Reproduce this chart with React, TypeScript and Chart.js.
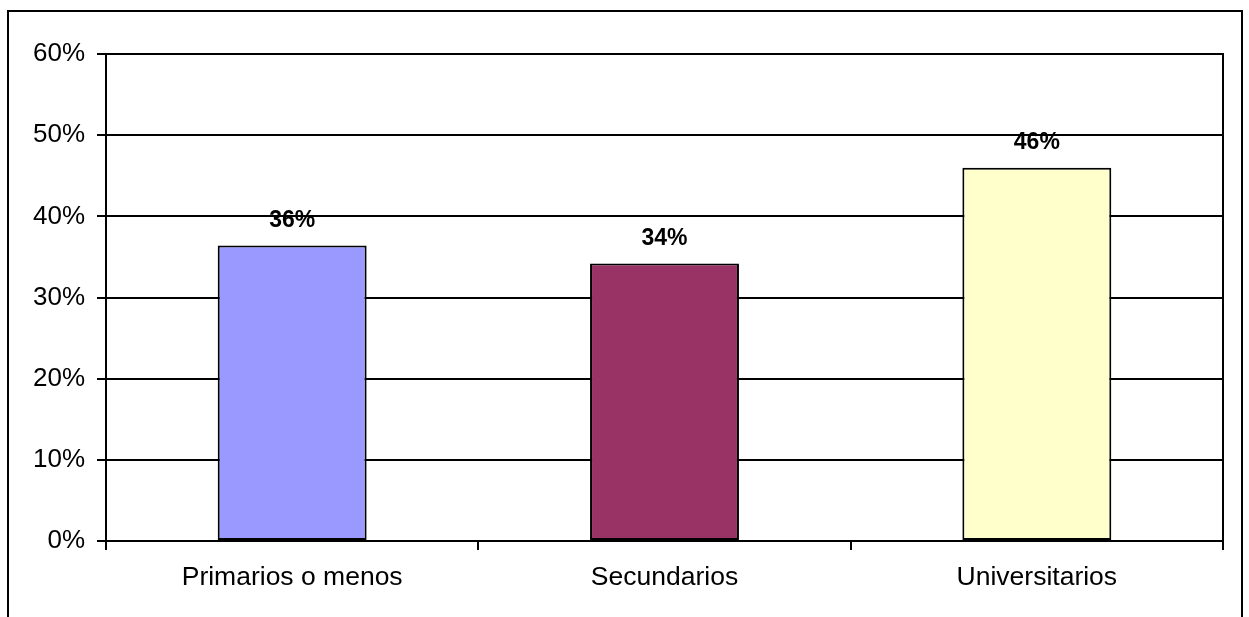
import React, { useEffect, useRef } from "react";
import { Chart, registerables } from "chart.js";

Chart.register(...registerables);

const categories: string[] = ["Primarios o menos", "Secundarios", "Universitarios"];
const values: number[] = [36.4, 34.2, 46.0];
const barColors: string[] = ["#9999FF", "#993366", "#FFFFCC"];
const yTicks: number[] = [0, 10, 20, 30, 40, 50, 60];

const FONT = "'Liberation Sans', Arial, Helvetica, sans-serif";

const framePlugin = {
  id: "framePlugin",
  afterDraw(chart: any) {
    const { ctx, chartArea } = chart;
    ctx.save();
    ctx.strokeStyle = "#000";
    ctx.lineWidth = 2;
    // plot area border
    ctx.strokeRect(chartArea.left, chartArea.top, chartArea.right - chartArea.left, chartArea.bottom - chartArea.top);
    // outer chart frame (bottom falls outside the view)
    ctx.beginPath();
    ctx.moveTo(8, chart.height + 10);
    ctx.lineTo(8, 11);
    ctx.lineTo(1242, 11);
    ctx.lineTo(1242, chart.height + 10);
    ctx.stroke();
    // value labels
    const meta = chart.getDatasetMeta(0);
    ctx.fillStyle = "#000";
    ctx.font = `bold 23px ${FONT}`;
    ctx.textAlign = "center";
    ctx.textBaseline = "middle";
    meta.data.forEach((bar: any, i: number) => {
      const { x, y } = bar.getProps(["x", "y"], true);
      ctx.fillText(`${Math.round(values[i])}%`, x, y - 25);
    });
    ctx.restore();
  },
};

export default function App() {
  const ref = useRef<HTMLCanvasElement | null>(null);

  useEffect(() => {
    if (!ref.current) return;
    const chart = new Chart(ref.current, {
      type: "bar",
      data: {
        labels: categories,
        datasets: [
          {
            data: values,
            backgroundColor: barColors,
            borderColor: "#000",
            borderWidth: 2,
            borderSkipped: false,
            categoryPercentage: 1,
            barPercentage: 0.4,
          },
        ],
      },
      options: {
        responsive: false,
        animation: false,
        devicePixelRatio: 1,
        layout: { padding: { top: 54, right: 26, bottom: 0, left: 0 } },
        plugins: {
          legend: { display: false },
          title: { display: false },
          tooltip: { enabled: false },
        },
        scales: {
          x: {
            offset: true,
            grid: {
              offset: true,
              drawOnChartArea: false,
              drawTicks: true,
              tickLength: 9,
              color: "#000",
              lineWidth: 2,
            },
            border: { display: true, color: "#000", width: 2 },
            ticks: {
              color: "#000",
              padding: 12,
              font: { family: FONT, size: 26.5 },
              maxRotation: 0,
              autoSkip: false,
            },
            afterFit(scale: any) {
              scale.height = 76;
            },
          },
          y: {
            min: 0,
            max: 60,
            afterBuildTicks(scale: any) {
              scale.ticks = yTicks.map((v) => ({ value: v }));
            },
            grid: {
              color: "#000",
              lineWidth: 2,
              drawTicks: true,
              tickLength: 9,
            },
            border: { display: true, color: "#000", width: 2 },
            ticks: {
              color: "#000",
              padding: 12,
              font: { family: FONT, size: 26 },
              callback: (v: any) => `${v}%`,
            },
            afterFit(scale: any) {
              scale.width = 106;
            },
          },
        },
      },
      plugins: [framePlugin],
    });
    return () => chart.destroy();
  }, []);

  return (
    <div style={{ position: "absolute", left: 0, top: 0, width: 1249, height: 617, background: "#fff" }}>
      <canvas ref={ref} width={1249} height={617} style={{ display: "block" }} />
    </div>
  );
}
